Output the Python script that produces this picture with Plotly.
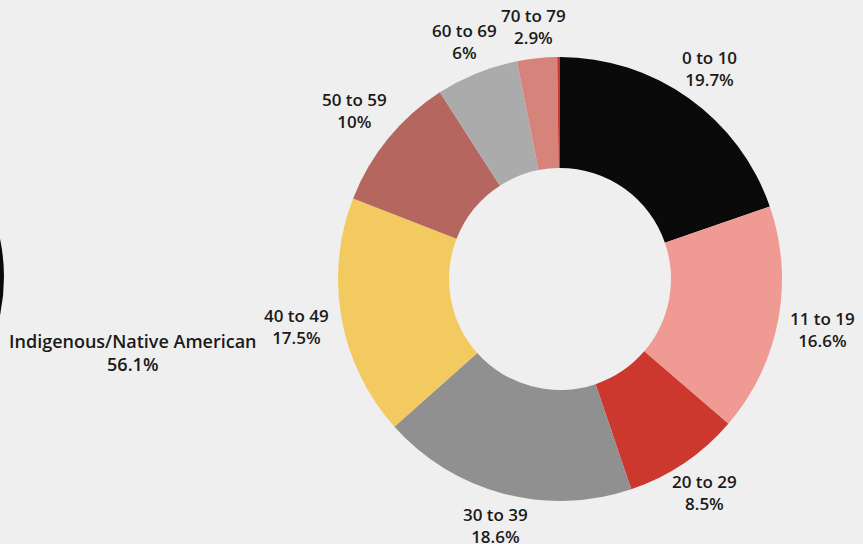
import math
import plotly.graph_objects as go

age_labels = ["0 to 10", "11 to 19", "20 to 29", "30 to 39", "40 to 49",
              "50 to 59", "60 to 69", "70 to 79", "80 to 89"]
age_values = [19.7, 16.6, 8.5, 18.6, 17.5, 10.0, 6.0, 2.9, 0.2]
age_colors = ["#0a0a0a", "#f09a94", "#cc372e", "#909090", "#f3ca5f",
              "#b5665f", "#ababab", "#d5837b", "#cc372e"]
age_show_label = [True] * 8 + [False]

race_label = "Indigenous/Native American"
race_percent = "56.1%"

W, H = 863, 544
cx, cy, R = 560, 279, 222
FONT = "Open Sans"
FS = 17
TXT = "#1a1a1a"

fig = go.Figure()
fig.add_trace(go.Pie(
    labels=age_labels, values=age_values, sort=False, direction="clockwise",
    rotation=0, hole=0.5, textinfo="none",
    marker=dict(colors=age_colors, line=dict(width=0)),
    domain=dict(x=[(cx - R) / W, (cx + R) / W], y=[1 - (cy + R) / H, 1 - (cy - R) / H]),
    showlegend=False,
))

# outside labels placed along each slice's mid-angle (derived from the values)
total = sum(age_values)
cum = 0.0
gap = 12
for lab, val, show in zip(age_labels, age_values, age_show_label):
    mid = (cum + val / 2) / total * 2 * math.pi
    cum += val
    if not show:
        continue
    pct = round(val / total * 100, 1)
    pct_txt = (f"{pct:g}") + "%"
    dx, dy = math.sin(mid), -math.cos(mid)
    hw = max(len(lab), len(pct_txt)) * 8.2 / 2
    hh = 20
    t = min(hw / abs(dx) if abs(dx) > 1e-6 else 1e9, hh / abs(dy) if abs(dy) > 1e-6 else 1e9)
    px = cx + dx * (R + gap + t)
    py = cy + dy * (R + gap + t)
    fig.add_annotation(x=px / W, y=1 - py / H, xref="paper", yref="paper",
                       xanchor="center", yanchor="middle", showarrow=False,
                       text=f"{lab}<br>{pct_txt}",
                       font=dict(family=FONT, size=FS, color=TXT, weight=600))

# partially visible neighbouring donut (cropped at the left edge)
lr = 185
lcx, lcy = 4 - lr, 277
fig.add_shape(type="circle", xref="paper", yref="paper",
              x0=(lcx - lr) / W, x1=(lcx + lr) / W,
              y0=1 - (lcy + lr) / H, y1=1 - (lcy - lr) / H,
              fillcolor="#0a0a0a", line=dict(width=0), layer="below")
fig.add_annotation(x=133 / W, y=1 - 352 / H, xref="paper", yref="paper",
                   xanchor="center", yanchor="middle",
                   text=f"{race_label}<br>{race_percent}", showarrow=False,
                   font=dict(family=FONT, size=18, color=TXT, weight=600))

fig.update_layout(width=W, height=H, margin=dict(l=0, r=0, t=0, b=0),
                  paper_bgcolor="#efefef", plot_bgcolor="#efefef")
fig.write_html("out.html", config={"displayModeBar": False},
               post_script="document.body.style.margin='0px';document.body.style.background='#efefef';")
